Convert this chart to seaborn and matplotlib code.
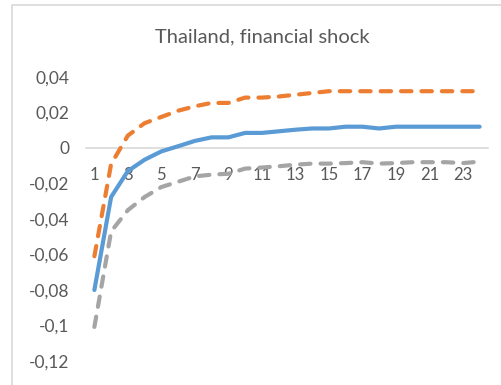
import matplotlib
matplotlib.use("Agg")
import matplotlib.pyplot as plt
import seaborn as sns
import pandas as pd
from matplotlib.patches import Rectangle
from matplotlib.ticker import FuncFormatter, FixedLocator

periods = list(range(1, 25))
point_estimate = [-0.080, -0.0276, -0.013, -0.0066, -0.0019, 0.001, 0.004, 0.006, 0.006,
                  0.0085, 0.0085, 0.0094, 0.0103, 0.011, 0.011, 0.012, 0.012, 0.011,
                  0.012, 0.012, 0.012, 0.012, 0.012, 0.012]
upper_band = [-0.061, -0.009, 0.007, 0.014, 0.0175, 0.021, 0.0235, 0.0254, 0.0254,
              0.0284, 0.0284, 0.029, 0.030, 0.031, 0.032, 0.032, 0.032, 0.032,
              0.032, 0.032, 0.032, 0.032, 0.032, 0.032]
lower_band = [-0.1008, -0.047, -0.035, -0.0276, -0.022, -0.019, -0.016, -0.015, -0.0145,
              -0.0116, -0.011, -0.0103, -0.0094, -0.0088, -0.0088, -0.0085, -0.008, -0.0088,
              -0.0085, -0.008, -0.008, -0.008, -0.0085, -0.0077]
x_tick_labels = [str(p) for p in range(1, 25, 2)]
y_ticks = [-0.12, -0.10, -0.08, -0.06, -0.04, -0.02, 0.0, 0.02, 0.04]
title = "Thailand, financial shock"

sns.set_theme(style="white")
plt.rcParams['font.family'] = ['Lato', 'DejaVu Sans']

df = pd.DataFrame({
    "period": periods * 3,
    "value": point_estimate + upper_band + lower_band,
    "series": ["point"] * 24 + ["upper"] * 24 + ["lower"] * 24,
})

fig = plt.figure(figsize=(5.02, 3.85), dpi=100)
ax = fig.add_axes([86 / 502, 1 - 361 / 385, (488 - 86) / 502, (361 - 77) / 385])

palette = {"point": "#5B9BD5", "upper": "#ED7D31", "lower": "#A5A5A5"}
sns.lineplot(data=df, x="period", y="value", hue="series", style="series",
             palette=palette,
             dashes={"point": "", "upper": (2.5, 2.4), "lower": (2.5, 2.4)},
             linewidth=3.0, legend=False, ax=ax)
for line in ax.get_lines():
    line.set_dash_capstyle("round")
    line.set_solid_capstyle("round")
    line.set_solid_joinstyle("round")
    line.set_dash_joinstyle("round")

ax.set_xlim(0.5, 24.5)
ax.set_ylim(-0.12, 0.04)
ax.set_xlabel("")
ax.set_ylabel("")

for s in ["top", "right", "left"]:
    ax.spines[s].set_visible(False)
ax.spines["bottom"].set_position(("data", 0))
ax.spines["bottom"].set_color("#D9D9D9")
ax.spines["bottom"].set_linewidth(1.2)
ax.spines["bottom"].set_zorder(0)

ax.xaxis.set_major_locator(FixedLocator(list(range(1, 25, 2))))
ax.set_xticklabels(x_tick_labels)
ax.yaxis.set_major_locator(FixedLocator(y_ticks))
ax.yaxis.set_major_formatter(FuncFormatter(
    lambda v, p: "0" if abs(v) < 1e-12 else (f"{v:.2f}".rstrip("0")).replace(".", ",")))
ax.tick_params(axis="x", length=0, pad=13.5, labelsize=12, labelcolor="#595959")
ax.tick_params(axis="y", length=0, pad=12, labelsize=12.5, labelcolor="#595959")
ax.grid(False)

fig.text(262 / 502, 1 - 37 / 385, title, ha="center", va="center",
         fontsize=14.5, color="#595959")

fig.patches.append(Rectangle((12 / 502, -0.05), 1.0, 1 - 5 / 385 + 0.05,
                             transform=fig.transFigure, fill=False,
                             edgecolor="#D9D9D9", linewidth=1.2))

fig.savefig("out.png", dpi=100)
